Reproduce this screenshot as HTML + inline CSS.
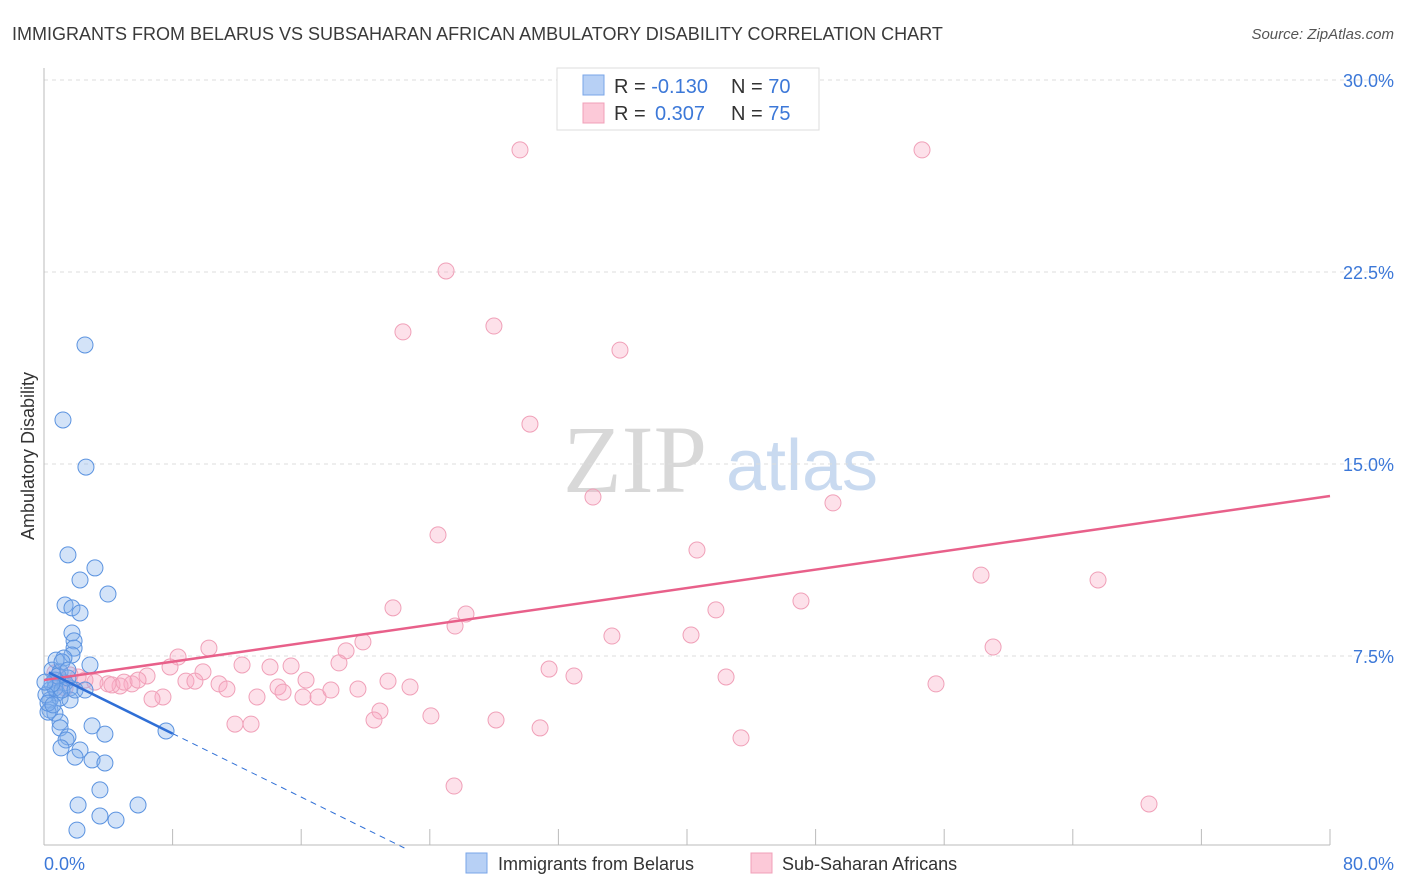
<!DOCTYPE html>
<html><head><meta charset="utf-8"><style>
body{margin:0;background:#fff;font-family:"Liberation Sans",sans-serif;}
svg{display:block}
</style></head><body>
<svg width="1406" height="892" viewBox="0 0 1406 892">
<text x="12" y="40" font-size="18" fill="#3a3a3a">IMMIGRANTS FROM BELARUS VS SUBSAHARAN AFRICAN AMBULATORY DISABILITY CORRELATION CHART</text>
<text x="1394" y="39" font-size="15" fill="#555" text-anchor="end" font-style="italic">Source: ZipAtlas.com</text>
<g>
<text x="635" y="492" font-size="96" font-family="Liberation Serif,serif" fill="#d8d8d8" text-anchor="middle">ZIP</text>
<text x="802" y="490" font-size="72" fill="#c9daf0" text-anchor="middle">atlas</text>
</g>
<g id="grid"></g>
<line x1="44" y1="68" x2="44" y2="845" stroke="#bbb"/>
<line x1="44" y1="845" x2="1330" y2="845" stroke="#bbb"/>
<g id="xticks"></g>
<g id="ylabels"></g>
<text x="44" y="870" font-size="18" fill="#3c78d8">0.0%</text>
<text x="1394" y="870" font-size="18" fill="#3c78d8" text-anchor="end">80.0%</text>
<text transform="translate(34,456) rotate(-90)" font-size="18" fill="#333" text-anchor="middle">Ambulatory Disability</text>
<g id="pink"></g>
<g id="blue"></g>
<g id="trends"></g>
<g>
<rect x="557" y="68" width="262" height="62" fill="#fff" stroke="#ddd"/>
<rect x="583" y="75" width="21" height="20" fill="#b7d0f5" stroke="#7aa6e8"/>
<rect x="583" y="103" width="21" height="20" fill="#fcc9d8" stroke="#f0a0b8"/>
<text x="614" y="93" font-size="20" fill="#333">R = <tspan fill="#3c78d8">-0.130</tspan><tspan x="731">N = </tspan><tspan fill="#3c78d8">70</tspan></text>
<text x="614" y="120" font-size="20" fill="#333">R = <tspan fill="#3c78d8" x="655">0.307</tspan><tspan x="731">N = </tspan><tspan fill="#3c78d8">75</tspan></text>
</g>
<g>
<rect x="466" y="853" width="21" height="20" fill="#b7d0f5" stroke="#7aa6e8"/>
<text x="498" y="870" font-size="18" fill="#333">Immigrants from Belarus</text>
<rect x="751" y="853" width="21" height="20" fill="#fcc9d8" stroke="#f0a0b8"/>
<text x="782" y="870" font-size="18" fill="#333">Sub-Saharan Africans</text>
</g>
</svg>
<script>
const yTicks=[7.5,15,22.5,30];
const xTicks=[0,8,16,24,32,40,48,56,64,72,80];
const blueX=[2.55,1.18,2.61,1.49,2.24,3.17,3.98,1.31,1.74,2.24,1.74,1.87,1.87,1.74,1.24,2.86,0.75,0.5,1.0,0.68,1.31,0.37,0.81,1.62,0.37,1.0,1.62,0.37,0.68,0.25,1.0,1.0,2.99,3.79,1.49,1.37,1.06,2.24,1.93,2.99,3.79,3.48,2.12,5.85,3.48,4.48,2.05,7.59,0.68,1.12,1.49,0.87,0.5,0.12,0.25,0.56,1.93,0.06,2.55,1.12,1.49];
const blueY=[19.65,16.72,14.88,11.45,10.47,10.94,9.92,9.49,9.38,9.18,8.4,8.09,7.81,7.54,7.42,7.15,7.34,6.95,6.88,6.56,6.45,6.17,6.05,6.25,5.78,5.86,5.78,5.39,5.27,5.31,4.92,4.69,4.77,4.45,4.34,4.22,3.91,3.83,3.55,3.44,3.32,2.27,1.68,1.68,1.25,1.09,0.70,4.57,6.25,6.17,6.64,6.72,6.41,5.98,5.66,5.59,6.17,6.48,6.17,7.27,6.95];
const pinkX=[29.61,54.62,25.01,27.99,22.33,35.83,30.23,34.15,49.08,24.51,40.62,58.29,65.57,21.71,26.25,41.8,47.09,25.57,35.33,40.25,19.84,59.04,10.26,8.34,18.79,12.32,14.06,15.37,7.84,9.89,18.35,31.42,32.97,42.43,16.3,21.4,55.49,22.77,8.83,9.39,10.89,11.38,14.56,14.87,16.11,17.05,17.85,19.53,13.25,7.4,6.72,20.9,20.53,24.07,28.12,30.86,11.88,12.88,43.36,25.51,68.74,6.41,5.47,4.73,3.98,3.17,2.55,2.12,1.62,1.0,0.68,1.31,4.23,4.98,5.85];
const pinkY=[27.27,27.27,22.54,20.39,20.16,19.45,16.56,13.71,13.48,12.23,11.64,10.66,10.47,9.38,9.14,9.3,9.65,8.67,8.28,8.32,8.05,7.85,7.81,7.46,7.7,7.15,7.07,7.11,7.07,6.88,7.23,6.99,6.72,6.68,6.56,6.52,6.41,6.29,6.52,6.52,6.41,6.21,6.29,6.09,5.9,5.9,6.17,6.21,5.9,5.9,5.82,5.35,5.0,5.16,5.0,4.69,4.84,4.84,4.3,2.42,1.72,6.72,6.41,6.33,6.41,6.48,6.56,6.68,6.76,6.56,6.84,6.25,6.37,6.48,6.56];
const pinkTrend=[6.56,13.75];
const blueTrend=[6.95,-0.31];
const X=v=>44+v*1286/80, Y=v=>848-v*25.6;
const NS='http://www.w3.org/2000/svg';
function mk(p,t,a){const e=document.createElementNS(NS,t);for(const k in a)e.setAttribute(k,a[k]);document.getElementById(p).appendChild(e);return e;}
yTicks.forEach(t=>{
 const l=mk('grid','line',{x1:44,x2:1394,y1:Y(t),y2:Y(t),stroke:'#ddd','stroke-dasharray':'4,4'});
 
 
 const s=mk('ylabels','text',{x:1394,y:Y(t)+7,'font-size':18,fill:'#3c78d8','text-anchor':'end'});
 s.textContent=t.toFixed(1)+'%';
 
 
});
xTicks.forEach(t=>{
 const l=mk('xticks','line',{x1:X(t),x2:X(t),y1:829,y2:845,stroke:'#bbb'});
 
 
});
pinkX.forEach((v,i)=>{
 const c=mk('pink','circle',{cx:X(v),cy:Y(pinkY[i]),r:8,fill:'rgba(248,170,195,0.35)',stroke:'#f0a0b8','stroke-width':1});
 
 
});
blueX.forEach((v,i)=>{
 const c=mk('blue','circle',{cx:X(v),cy:Y(blueY[i]),r:8,fill:'rgba(130,175,235,0.35)',stroke:'#5b93e0','stroke-width':1});
 
 
});
const pl=mk('trends','line',{x1:X(0),y1:Y(pinkTrend[0]),x2:X(80),y2:Y(pinkTrend[1]),stroke:'#e8608a','stroke-width':2.5});


const bEnd=-blueTrend[0]/blueTrend[1];
const bl=mk('trends','line',{x1:X(0.3),y1:Y(blueTrend[0]+blueTrend[1]*0.3),x2:X(8),y2:Y(blueTrend[0]+blueTrend[1]*8),stroke:'#2f6fd6','stroke-width':2.5});


const bd=mk('trends','line',{x1:X(8),y1:Y(blueTrend[0]+blueTrend[1]*8),x2:X(bEnd),y2:Y(0),stroke:'#2f6fd6','stroke-width':1,'stroke-dasharray':'6,5'});


</script>
</body></html>
